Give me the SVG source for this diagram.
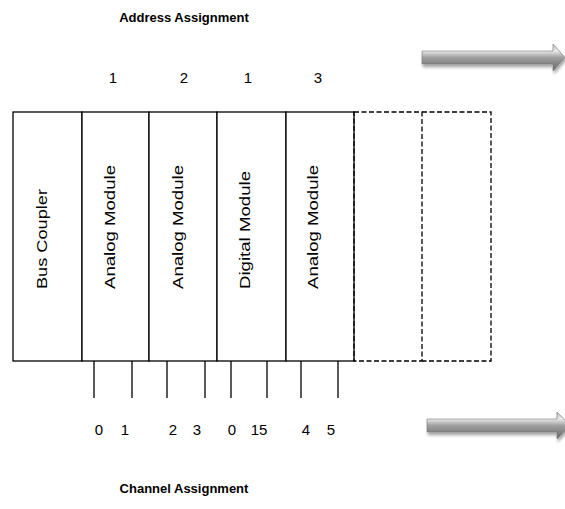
<svg xmlns="http://www.w3.org/2000/svg" width="565" height="509" viewBox="0 0 565 509">
<style>
.t{font-family:"Liberation Sans",Arial,sans-serif;fill:#000}
.title{font-size:13px;font-weight:bold;text-anchor:middle}
.num{font-size:15px;text-anchor:middle}
.vt{font-size:15.5px;text-anchor:start}
.box{fill:#fff;stroke:#000;stroke-width:1.3}
.dash{fill:none;stroke:#000;stroke-width:1.3;stroke-dasharray:5 2.5}
.tick{stroke:#000;stroke-width:1.3}
</style>
<defs>
<linearGradient id="ag" x1="0" y1="0" x2="0" y2="1">
<stop offset="0" stop-color="#b8b8b8"/>
<stop offset="0.25" stop-color="#ececec"/>
<stop offset="0.5" stop-color="#a0a0a0"/>
<stop offset="1" stop-color="#666"/>
</linearGradient>
<filter id="sh" x="-10%" y="-50%" width="120%" height="200%">
<feGaussianBlur in="SourceAlpha" stdDeviation="1.5"/>
<feOffset dx="1" dy="2.5" result="b"/>
<feComponentTransfer><feFuncA type="linear" slope="0.35"/></feComponentTransfer>
<feMerge><feMergeNode/><feMergeNode in="SourceGraphic"/></feMerge>
</filter>
</defs>
<text class="t title" x="184" y="22">Address Assignment</text>
<text class="t title" x="184" y="493">Channel Assignment</text>
<g id="address-labels">
<text class="t num" x="113" y="83">1</text>
<text class="t num" x="184" y="83">2</text>
<text class="t num" x="248" y="83">1</text>
<text class="t num" x="318" y="83">3</text>
</g>
<g id="bus-coupler">
<rect class="box" x="13" y="112" width="69" height="249"/>
<text class="t vt" transform="translate(46.5,289) rotate(-90)" textLength="100" lengthAdjust="spacingAndGlyphs">Bus Coupler</text>
</g>
<g id="analog-module-1">
<rect class="box" x="82" y="112" width="67" height="249"/>
<text class="t vt" transform="translate(115,289) rotate(-90)" textLength="124" lengthAdjust="spacingAndGlyphs">Analog Module</text>
</g>
<g id="analog-module-2">
<rect class="box" x="149" y="112" width="68" height="249"/>
<text class="t vt" transform="translate(183,289) rotate(-90)" textLength="124" lengthAdjust="spacingAndGlyphs">Analog Module</text>
</g>
<g id="digital-module">
<rect class="box" x="217" y="112" width="69" height="249"/>
<text class="t vt" transform="translate(250,289) rotate(-90)" textLength="118" lengthAdjust="spacingAndGlyphs">Digital Module</text>
</g>
<g id="analog-module-3">
<rect class="box" x="286" y="112" width="68" height="249"/>
<text class="t vt" transform="translate(318,289) rotate(-90)" textLength="124" lengthAdjust="spacingAndGlyphs">Analog Module</text>
</g>
<g id="empty-slot-1">
<path class="dash" d="M354,112 H422 V361 H354 Z"/>
</g>
<g id="empty-slot-2">
<path class="dash" d="M422,112 H491 V361 H422" stroke="#333"/>
</g>
<g id="connectors">
<line class="tick" x1="94" y1="361" x2="94" y2="398"/>
<line class="tick" x1="132" y1="361" x2="132" y2="398"/>
<line class="tick" x1="167" y1="361" x2="167" y2="398"/>
<line class="tick" x1="205" y1="361" x2="205" y2="398"/>
<line class="tick" x1="231" y1="361" x2="231" y2="398"/>
<line class="tick" x1="267" y1="361" x2="267" y2="398"/>
<line class="tick" x1="301" y1="361" x2="301" y2="398"/>
<line class="tick" x1="338" y1="361" x2="338" y2="398"/>
</g>
<g id="channel-labels">
<text class="t num" x="99" y="435">0</text>
<text class="t num" x="125" y="435">1</text>
<text class="t num" x="173" y="435">2</text>
<text class="t num" x="197" y="435">3</text>
<text class="t num" x="232" y="435">0</text>
<text class="t num" x="259" y="435">15</text>
<text class="t num" x="306" y="435">4</text>
<text class="t num" x="331" y="435">5</text>
</g>
<g id="arrow-top" filter="url(#sh)">
<path d="M422,51 H553 V44 L565,57.5 L553,71 V64 H422 Z" fill="url(#ag)" stroke="#777" stroke-width="0.6"/>
</g>
<g id="arrow-bottom" filter="url(#sh)">
<path d="M427,419 H557 V412 L570,425.5 L557,439 V432 H427 Z" fill="url(#ag)" stroke="#777" stroke-width="0.6"/>
</g>
</svg>
